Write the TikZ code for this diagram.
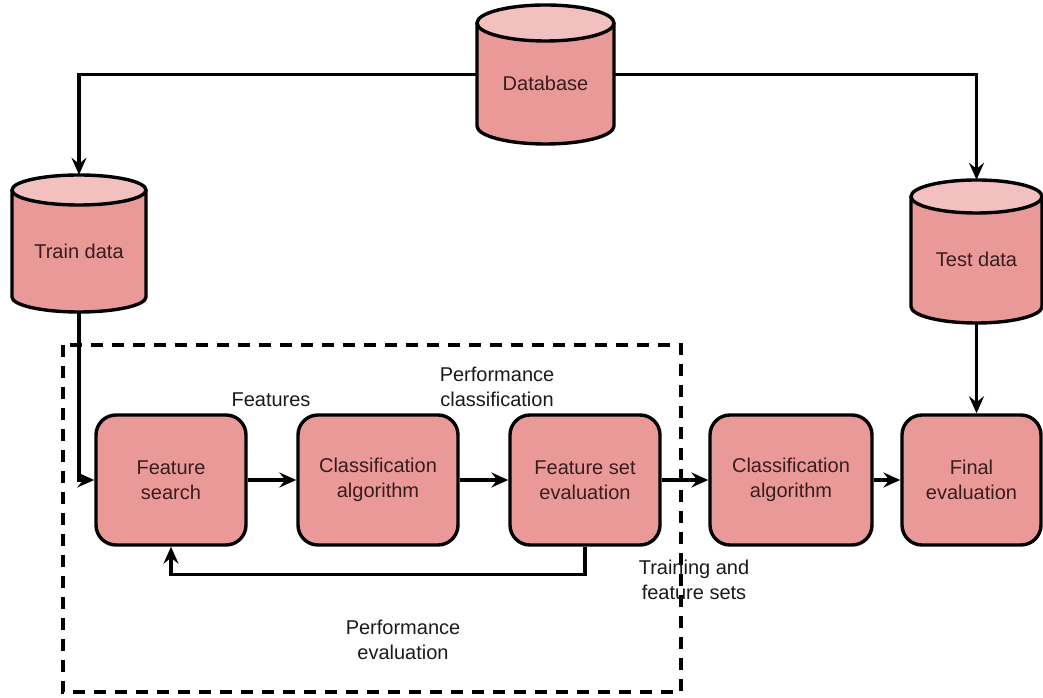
\documentclass[tikz,border=0pt]{standalone}
\usepackage{fontspec}
\setmainfont{Liberation Sans}
\usetikzlibrary{arrows.meta}

\definecolor{bodyfill}{HTML}{EA9999}
\definecolor{capfill}{HTML}{F3C0C0}
\definecolor{inktext}{HTML}{3A1C1C}
\definecolor{labeltext}{HTML}{1A1A1A}

\tikzset{
  outline/.style={line width=3.4pt, draw=black, line join=round},
  procbox/.style={outline, fill=bodyfill, rounded corners=20pt,
    minimum height=130pt, align=center, text=inktext, inner sep=2pt},
  conn/.style={line width=3.4pt, draw=black,
    -{Stealth[length=17pt, width=15pt, inset=6pt]}},
  lbl/.style={align=center, text=labeltext, inner sep=0pt},
  frame/.style={line width=3.4pt, draw=black, dash pattern=on 12pt off 9pt},
}

% cylinder: name, centre x, top y, bottom y, x radius, y radius, text
\newcommand\datastore[7]{%
  \fill[bodyfill] ({#2-#5},{#3-#6}) -- ({#2-#5},{#4+#6})
    arc[start angle=180, end angle=360, x radius=#5, y radius=#6]
    -- ({#2+#5},{#3-#6}) -- cycle;
  \draw[outline] ({#2-#5},{#3-#6}) -- ({#2-#5},{#4+#6})
    arc[start angle=180, end angle=360, x radius=#5, y radius=#6]
    -- ({#2+#5},{#3-#6});
  \filldraw[outline, fill=capfill] (#2,{#3-#6}) ellipse[x radius=#5, y radius=#6];
  \node[inner sep=0pt, minimum width={2*#5}, minimum height={#3-#4}]
    (#1) at (#2,{(#3+#4)/2}) {};
  \node[lbl, text=inktext] (#1-text) at (#2,{(#3-#6+#4)/2}) {#7};
}

\begin{document}
\begin{tikzpicture}[x=1pt, y=1pt, font=\fontsize{20}{25}\selectfont]
\useasboundingbox (0,0) rectangle (1043,698);

% stores
\datastore{db}{545.5}{693}{554}{68.5}{18}{Database}
\datastore{train}{79}{523}{386}{67}{15}{Train data}
\datastore{test}{976.5}{518}{375}{65.5}{16.5}{Test data}

% processing steps
\node[procbox, minimum width=150pt] (fs)  at (171,218)   {Feature\\search};
\node[procbox, minimum width=160pt] (ca)  at (378,218)   {Classification\\algorithm};
\node[procbox, minimum width=150pt] (fse) at (585,218)   {Feature set\\evaluation};
\node[procbox, minimum width=162pt] (ca2) at (791,218)   {Classification\\algorithm};
\node[procbox, minimum width=139pt] (fe)  at (971.5,218) {Final\\evaluation};

% feature selection loop boundary
\draw[frame] (63,353) rectangle (681,6);

% connectors
\draw[conn] (db.west) -| (train.north);
\draw[conn] (db.east) -| (test.north);
\draw[conn] (train.south) |- (fs.west);
\draw[conn] (fs) -- (ca);
\draw[conn] (ca) -- (fse);
\draw[conn] (fse) -- (ca2);
\draw[conn] (ca2) -- (fe);
\draw[conn] (test.south) -- (test.south |- fe.north);
\draw[conn] (fse.south) -- ++(0,-28) -| (fs.south);

% labels
\node[lbl] (lfeat) at (271,298) {Features};
\node[lbl] (lperfc) at (497,311) {Performance\\classification};
\node[lbl] (ltrain) at (694,118) {Training and\\feature sets};
\node[lbl] (lperfe) at (403,58) {Performance\\evaluation};
\end{tikzpicture}
\end{document}
